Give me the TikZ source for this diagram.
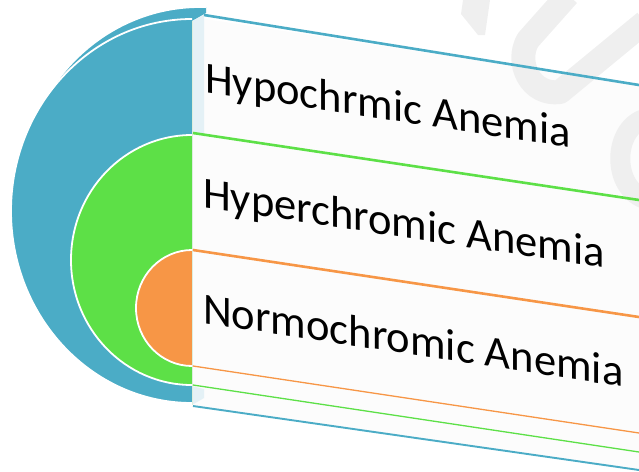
\documentclass[tikz,border=0pt]{standalone}
\usepackage{fontspec}
\setmainfont{Carlito}
\definecolor{cblue}{HTML}{4BACC6}
\definecolor{cgreen}{HTML}{5DE047}
\definecolor{corange}{HTML}{F79646}
\definecolor{panelc}{HTML}{FCFCFC}
\definecolor{wmc}{HTML}{EFEFEF}
\definecolor{sideblue}{HTML}{E4F1F6}
\definecolor{edgec}{HTML}{DDEEDD}
\begin{document}
\begin{tikzpicture}[x=1pt,y=-1pt,
  disc/.style={fill=#1, draw=white, line width=1.8pt},
  sep/.style={draw=#1, line width=2.6pt},
  thinsep/.style={draw=#1, line width=1.3pt},
  lbl/.style={anchor=base west, inner sep=0pt, yslant=-0.152, text=black,
              font=\fontsize{44.5}{50}\selectfont}]
\useasboundingbox (0,0) rectangle (639,471);

% panel face
\fill[panelc] (192,17) -- (639,85) -- (639,471) -- (192,405) -- cycle;

% faint watermark
\fill[wmc] (463,0) -- (490,0) -- (485,35) -- (478,35) -- (461,14) -- cycle;
\draw[wmc, line width=24pt, line join=round]
  (568,-5) -- (528,40) .. controls (515,62) and (530,96) .. (560,92) -- (645,22);
\draw[wmc, line width=20pt]
  (648,118) .. controls (612,125) and (610,190) .. (648,200);

% 3D lid of the outer half disc
\begin{scope}
  \clip (0,0) -- (206,0) -- (206,13) -- (192,21) -- (192,471) -- (0,471) -- cycle;
  \path[disc=cblue] (200,198) ellipse [x radius=181, y radius=191];
\end{scope}

% nested half discs
\begin{scope}
  \clip (0,0) rectangle (192,471);
  \path[disc=cblue]   (192,211) ellipse [x radius=181, y radius=192];
  \path[disc=cgreen]  (192,260) ellipse [x radius=121, y radius=125];
  \path[disc=corange] (192,308) ellipse [x radius=56, y radius=58];
\end{scope}

% side faces of the panel
\fill[sideblue] (192,21) -- (204,15) -- (204,133) -- (192,133) -- cycle;
\fill[sideblue] (192,386) -- (204,389) -- (204,398) -- (192,405) -- cycle;
\draw[edgec, line width=0.8pt] (192.6,21) -- (192.6,405);

% separator lines
\coordinate (t1) at (204,15);  \coordinate (t2) at (639,85);
\coordinate (g1) at (193,133); \coordinate (g2) at (639,200);
\coordinate (o1) at (193,250); \coordinate (o2) at (639,317);
\coordinate (p1) at (193,366); \coordinate (p2) at (639,433);
\coordinate (q1) at (193,385); \coordinate (q2) at (639,452);
\coordinate (b1) at (193,406); \coordinate (b2) at (639,470);
\draw[sep=cblue] (t1) -- (t2);
\draw[sep=cgreen] (g1) -- (g2);
\draw[sep=corange] (o1) -- (o2);
\draw[thinsep=corange] (p1) -- (p2);
\draw[thinsep=cgreen] (q1) -- (q2);
\draw[sep=cblue, line width=1.9pt] (b1) -- (b2);

% labels
\node[lbl] (hypo)  at (205,92)  {Hypochrmic Anemia};
\node[lbl] (hyper) at (203,207) {Hyperchromic Anemia};
\node[lbl] (normo) at (203,323) {Normochromic Anemia};
\end{tikzpicture}
\end{document}
